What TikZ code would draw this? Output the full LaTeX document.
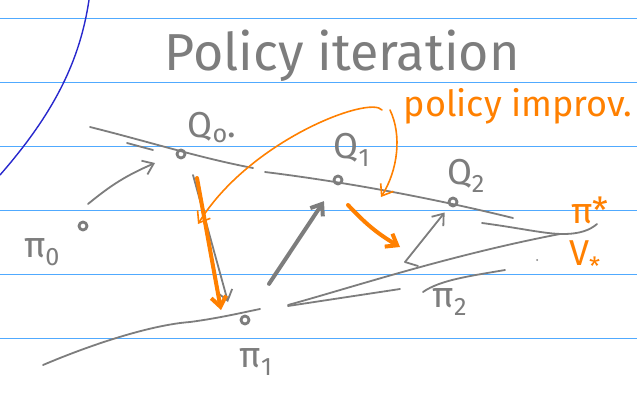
\documentclass[tikz,border=0pt]{standalone}
\usepackage{fontspec}
\setmainfont{Fira Sans}
\usetikzlibrary{arrows.meta}

\definecolor{ruleBlue}{RGB}{80,170,255}
\definecolor{inkBlue}{RGB}{40,40,205}
\definecolor{penGray}{RGB}{125,125,125}
\definecolor{penOrange}{RGB}{255,128,0}

\begin{document}
\begin{tikzpicture}[x=1pt, y=-1pt, line cap=round, line join=round,
  rule/.style={ruleBlue, line width=1pt},
  pen/.style={penGray, line width=1.8pt},
  penthick/.style={penGray, line width=4pt},
  hl/.style={penOrange, line width=1.6pt},
  hlthick/.style={penOrange, line width=4pt},
  arr/.style={-{Straight Barb[length=10pt, width=15pt]}},
  dot/.style={circle, draw=penGray, line width=2.8pt, minimum size=8pt, inner sep=0pt},
  lbl/.style={text=penGray, font=\fontsize{36}{36}\selectfont},
  hllbl/.style={text=penOrange, font=\fontsize{36}{36}\selectfont}]
  \useasboundingbox (0,0) rectangle (637,394);
  \fill[white] (0,0) rectangle (637,394);

  % ruled paper
  \foreach \y in {18,82,...,338}
    \draw[rule] (0,\y) -- (637,\y);
  % margin stroke
  \draw[inkBlue, line width=1.4pt] (89,0) .. controls (80,60) and (55,112) .. (0,175);

  % title
  \node[text=penGray, font=\fontsize{52}{52}\selectfont] (title) at (342,56) {Policy iteration};

  % points
  \node[dot] (q0) at (181,154) {};
  \node[dot] (q1) at (338,180) {};
  \node[dot] (q2) at (453,202) {};
  \node[dot] (p0) at (83,226) {};
  \node[dot] (p1) at (245,320) {};

  % labels
  \node[lbl] (lq0) at (212,128) {Q\textsubscript{o}.};
  \node[lbl] (lq1) at (352,150) {Q\textsubscript{1}};
  \node[lbl] (lq2) at (466,176) {Q\textsubscript{2}};
  \node[lbl] (lp0) at (42,252) {π\textsubscript{0}};
  \node[lbl] (lp1) at (256,362) {π\textsubscript{1}};
  \node[lbl] (lp2) at (450,302) {π\textsubscript{2}};
  \node[hllbl] (lpstar) at (590,210) {π*};
  \node[hllbl] (lvstar) at (585,258) {V\textsubscript{*}};
  \node[hllbl] (limprov) at (518,106) {policy improv.};

  % Q line
  \draw[pen] (90,127) .. controls (150,142) and (200,158) .. (253,168);
  \draw[pen] (127,143) -- (153,150);
  \draw[pen] (265,172) .. controls (330,180) and (420,195) .. (513,218);
  \draw[pen] (482,223) .. controls (520,228) and (545,234) .. (563,234)
    .. controls (580,234) and (590,230) .. (597,224);
  % pi line
  \draw[pen] (43,365) .. controls (90,345) and (150,325) .. (190,322)
    .. controls (220,318) and (245,312) .. (260,309);
  \draw[pen] (288,305) .. controls (350,288) and (450,255) .. (560,234);
  \draw[pen] (288,306) -- (400,289);
  \draw[pen] (423,292) .. controls (440,280) and (470,276) .. (505,270);
  \fill[penGray] (537,260) circle (1pt);

  % evaluation / greedy steps
  \coordinate (e0) at (88,204);
  \coordinate (e1) at (155,163);
  \draw[pen, arr] (e0) to[bend left=8] (e1);
  \coordinate (g0) at (193,175);
  \coordinate (g1) at (228,302);
  \draw[pen, arr] (g0) -- (g1);
  \coordinate (o0) at (197,178);
  \coordinate (o1) at (221,310);
  \draw[hlthick, arr] (o0) -- (o1);
  \draw[penthick, arr, shorten <=38pt, shorten >=20pt] (p1) -- (q1);
  \coordinate (o2) at (348,205);
  \coordinate (o3) at (400,247);
  \draw[hlthick, arr] (o2) to[bend right=8] (o3);
  \coordinate (g2) at (405,262);
  \draw[pen, arr, shorten >=8pt] (g2) -- (q2);
  \draw[pen] (g2) -- (418,266);

  % improvement strokes
  \coordinate (i0) at (382,110);
  \coordinate (i1) at (198,224);
  \draw[hl, arr] (i0) .. controls (370,95) and (250,140) .. (i1);
  \coordinate (i2) at (390,110);
  \coordinate (i3) at (381,197);
  \draw[hl, arr] (i2) .. controls (402,135) and (398,170) .. (i3);
\end{tikzpicture}
\end{document}
